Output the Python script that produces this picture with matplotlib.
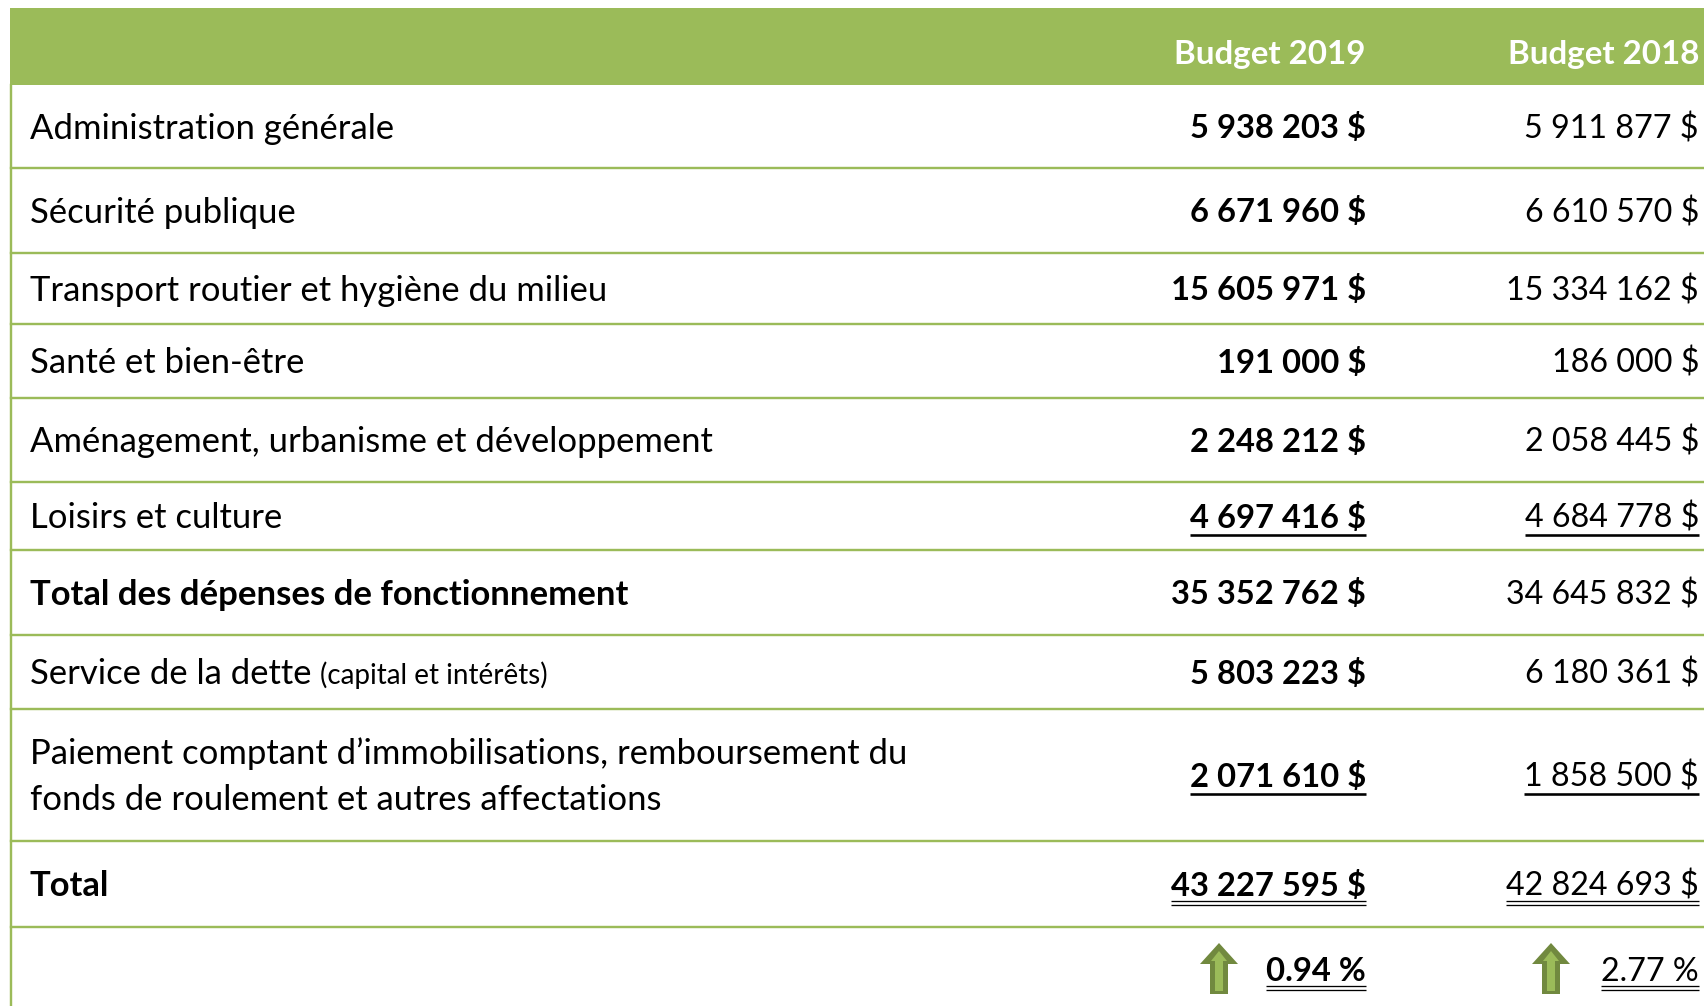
import matplotlib
matplotlib.use('Agg')
import matplotlib.pyplot as plt
from matplotlib.patches import Rectangle, FancyArrow

plt.rcParams['font.family'] = ['Lato', 'DejaVu Sans']

# data
categories = [
    "Administration générale",
    "Sécurité publique",
    "Transport routier et hygiène du milieu",
    "Santé et bien-être",
    "Aménagement, urbanisme et développement",
    "Loisirs et culture",
    "Total des dépenses de fonctionnement",
    "Service de la dette",
    "Paiement comptant d’immobilisations, remboursement du\nfonds de roulement et autres affectations",
    "Total",
]
budget_2019 = [5938203, 6671960, 15605971, 191000, 2248212, 4697416,
               35352762, 5803223, 2071610, 43227595]
budget_2018 = [5911877, 6610570, 15334162, 186000, 2058445, 4684778,
               34645832, 6180361, 1858500, 42824693]
headers = ["Budget 2019", "Budget 2018"]
pct_change = [0.94, 2.77]
note_dette = "(capital et intérêts)"

bold_labels = ["Total des dépenses de fonctionnement", "Total"]
single_ul = [5, 8]   # underlined value rows
double_ul = [9]

GREEN = '#9BBB59'
DARK_GREEN = '#71893F'

W, H = 1704, 1006
fig = plt.figure(figsize=(W / 100, H / 100), dpi=100)
ax = fig.add_axes([0, 0, 1, 1])
ax.set_xlim(0, W)
ax.set_ylim(H, 0)
ax.axis('off')

# layout (pixels)
row_lines = [85, 168, 253, 324, 398, 482, 550, 635, 709, 841, 927]
x_left = 11
x_lab = 30
x_c1, x_c2 = 1366, 1699

renderer = fig.canvas.get_renderer()


def fit_size(s, target, weight='normal'):
    t = ax.text(0, 0, s, fontsize=20, fontweight=weight)
    w = t.get_window_extent(renderer).width
    t.remove()
    return 20 * target / w


fs = fit_size("Administration générale", 364)
fs_b = fit_size("Total des dépenses de fonctionnement", 597, 'bold')
fs_small = fit_size(note_dette, 227)
fs_num = fit_size("15 334 162 $", 193)
fs_num_b = fit_size("15 605 971 $", 195, 'bold')
fs_head = fit_size("Budget 2019", 192, 'bold')


def base(cy, size):
    return cy + 0.36 * size * 100 / 72


def fmt(v):
    return f"{v:,}".replace(",", " ") + " $"


def underline(t, y, n):
    bb = t.get_window_extent(renderer)
    if n == 1:
        ax.plot([bb.x0, bb.x1], [y + 7, y + 7], color='black', lw=2.6 * 0.72,
                solid_capstyle='butt')
    else:
        for dy in (5, 9):
            ax.plot([bb.x0, bb.x1], [y + dy, y + dy], color='black', lw=1.3 * 0.72,
                    solid_capstyle='butt')


# header band
ax.add_patch(Rectangle((10, 8), W - 10, 77, color=GREEN, lw=0))
for h, x in zip(headers, [x_c1, x_c2]):
    ax.text(x, base(52, fs_head), h, color='white', fontsize=fs_head,
            fontweight='bold', ha='right', va='baseline')

# grid lines
for y in row_lines[1:]:
    ax.plot([x_left, W], [y, y], color=GREEN, lw=2.4 * 0.72)
ax.plot([x_left, x_left], [85, H], color=GREEN, lw=2.4 * 0.72)

# rows
for i, cat in enumerate(categories):
    cy = (row_lines[i] + row_lines[i + 1]) / 2
    is_bold = cat in bold_labels
    if "\n" in cat:
        l1, l2 = cat.split("\n")
        ax.text(x_lab, base(cy - 23, fs), l1, fontsize=fs, va='baseline')
        ax.text(x_lab, base(cy + 23, fs), l2, fontsize=fs, va='baseline')
    else:
        t = ax.text(x_lab, base(cy, fs_b if is_bold else fs), cat,
                    fontsize=fs_b if is_bold else fs,
                    fontweight='bold' if is_bold else 'normal', va='baseline')
        if cat == "Service de la dette":
            bb = t.get_window_extent(renderer)
            ax.text(bb.x1 + 9, base(cy, fs), note_dette, fontsize=fs_small,
                    va='baseline')

    yb1 = base(cy, fs_num_b)
    t1 = ax.text(x_c1, yb1, fmt(budget_2019[i]), fontsize=fs_num_b,
                 fontweight='bold', ha='right', va='baseline')
    yb2 = base(cy, fs_num)
    t2 = ax.text(x_c2, yb2, fmt(budget_2018[i]), fontsize=fs_num,
                 ha='right', va='baseline')
    if i in single_ul:
        underline(t1, yb1, 1)
        underline(t2, yb2, 1)
    if i in double_ul:
        underline(t1, yb1, 2)
        underline(t2, yb2, 2)

# percentage row with arrows
cy = 969
for k, (p, x, ax_x) in enumerate(zip(pct_change, [x_c1, x_c2], [1219, 1551])):
    ax.add_patch(FancyArrow(ax_x, 994, 0, -51, width=18, head_width=38,
                            head_length=21, length_includes_head=True,
                            fc=DARK_GREEN, ec=DARK_GREEN, lw=0))
    ax.add_patch(FancyArrow(ax_x, 991, 0, -40, width=8, head_width=16,
                            head_length=10, length_includes_head=True,
                            fc=GREEN, ec=GREEN, lw=0))
    yb = base(cy, fs_num_b)
    t = ax.text(x, yb, f"{p:.2f} %", fontsize=fs_num_b if k == 0 else fs_num,
                fontweight='bold' if k == 0 else 'normal', ha='right', va='baseline')
    underline(t, yb, 2)

fig.savefig('out.png', dpi=100, facecolor='white')
